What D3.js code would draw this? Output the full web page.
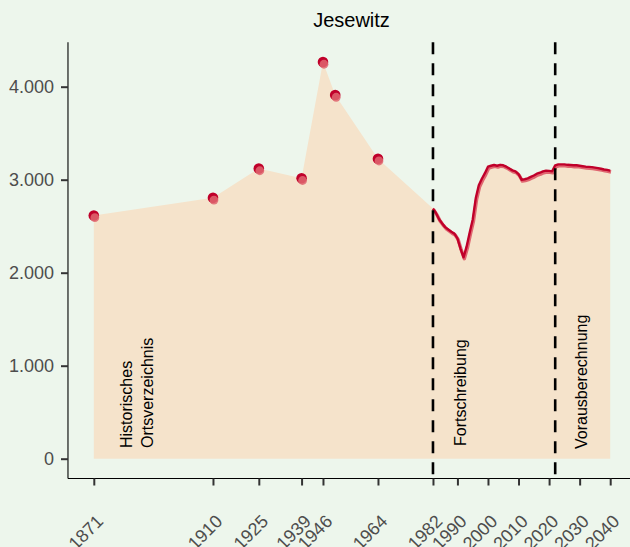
<!DOCTYPE html>
<html><head><meta charset="utf-8">
<script src="https://cdn.jsdelivr.net/npm/d3@7/dist/d3.min.js"></script>
<style>html,body{margin:0;padding:0;background:#edf6ec;}svg{display:block;}</style>
</head><body>
<svg id="c" width="630" height="547"></svg>
<script>
// ---- data ----
const histYears  = [1871, 1910, 1925, 1939, 1946, 1950, 1964];
const histValues = [2615, 2805, 3120, 3015, 4265, 3910, 3225];

const fortYears  = [1982,1983,1984,1985,1986,1987,1988,1989,1990,1991,1992,1993,1994,1995,1996,1997,1998,1999,2000,2001,2002,2003,2004,2005,2006,2007,2008,2009,2010,2011,2012,2013,2014,2015,2016,2017,2018,2019,2020,2021];
const fortValues = [2690,2640,2575,2530,2490,2465,2440,2420,2370,2260,2165,2280,2430,2570,2800,2940,3010,3070,3140,3150,3158,3150,3160,3155,3140,3120,3100,3090,3060,3000,3005,3015,3030,3045,3065,3075,3090,3097,3095,3090];

const projYears  = [2022,2023,2024,2025,2026,2027,2028,2029,2030,2031,2032,2033,2034,2035,2036,2037,2038,2039,2040];
const projValues = [3155,3165,3165,3165,3160,3158,3155,3155,3150,3145,3140,3138,3135,3130,3125,3118,3110,3105,3098];

const xTickYears = [1871,1910,1925,1939,1946,1964,1982,1990,2000,2010,2020,2030,2040];
const yTickValues = [0,1000,2000,3000,4000];
const phaseBreaks = [1982, 2022];
const title = "Jesewitz";

// ---- scales ----
const svg = d3.select("#c");
const x = d3.scaleLinear().domain([1871, 2040]).range([93.8, 610.2]);
const y = d3.scaleLinear().domain([0, 4000]).range([458.7, 86.7]);
const xMin = 1862.55, yMin = -213, yMax = 4478;

const fmt = v => d3.format(",")(v).replace(/,/g, ".");

const dark = "#c0002a", light = "#df6670", fill = "#f5e3cb";

const hist = histYears.map((d,i)=>({year:d, value:histValues[i]}));
const fort = fortYears.map((d,i)=>({year:d, value:fortValues[i]}));
const proj = projYears.map((d,i)=>({year:d, value:projValues[i]}));
const all = hist.concat(fort, proj);

svg.append("path")
  .datum(all)
  .attr("fill", fill)
  .attr("d", d3.area().x(d=>x(d.year)).y0(y(0)).y1(d=>y(d.value)));

const line = d3.line().x(d=>x(d.year)).y(d=>y(d.value));
const lineData = fort.concat(proj);
svg.append("path").datum(lineData)
  .attr("fill","none").attr("stroke", light).attr("stroke-width", 3.4)
  .attr("stroke-linejoin","round")
  .attr("transform","translate(0.8,1.4)")
  .attr("d", line);
svg.append("path").datum(lineData)
  .attr("fill","none").attr("stroke", dark).attr("stroke-width", 2.4)
  .attr("stroke-linejoin","round")
  .attr("d", line);

// points
svg.append("g").selectAll("circle").data(hist).join("circle")
  .attr("cx", d=>x(d.year)).attr("cy", d=>y(d.value)).attr("r", 5.3)
  .attr("fill", dark);
svg.append("g").selectAll("circle").data(hist).join("circle")
  .attr("cx", d=>x(d.year)+1).attr("cy", d=>y(d.value)+2.2).attr("r", 4.4)
  .attr("fill", light).attr("fill-opacity", 0.85);

svg.append("g").selectAll("line").data(phaseBreaks).join("line")
  .attr("x1", d=>x(d)).attr("x2", d=>x(d))
  .attr("y1", y(yMax)).attr("y2", y(yMin))
  .attr("stroke", "#000").attr("stroke-width", 2.6)
  .attr("stroke-dasharray", "12,9");

const labels = [
  {text:"Historisches", px:132, py:448},
  {text:"Ortsverzeichnis", px:153, py:448},
  {text:"Fortschreibung", px:466, py:446},
  {text:"Vorausberechnung", px:587, py:449}
];
svg.append("g").selectAll("text").data(labels).join("text")
  .attr("transform", d=>`translate(${d.px},${d.py}) rotate(-90)`)
  .attr("font-family","Liberation Sans, Arial, sans-serif")
  .attr("font-size", 16).attr("fill","#000")
  .text(d=>d.text);

const yAxis = svg.append("g").attr("transform", `translate(${x(xMin)},0)`)
  .call(d3.axisLeft(y).tickValues(yTickValues).tickFormat(fmt).tickSize(7).tickPadding(7));
yAxis.select(".domain").attr("d", `M0,${y(yMax)}V${y(yMin)}`).attr("stroke","#000").attr("stroke-width",1.1);
yAxis.selectAll(".tick line").attr("stroke","#333").attr("stroke-width",2);
yAxis.selectAll(".tick text").attr("font-family","Liberation Sans, Arial, sans-serif")
  .attr("font-size", 18).attr("fill","#4d4d4d");

const xAxis = svg.append("g").attr("transform", `translate(0,${y(yMin)})`)
  .call(d3.axisBottom(x).tickValues(xTickYears).tickFormat(d=>String(d)).tickSize(7));
xAxis.select(".domain").attr("d", `M${x(xMin)},0H630`).attr("stroke","#000").attr("stroke-width",1.1);
xAxis.selectAll(".tick line").attr("stroke","#333").attr("stroke-width",2);
xAxis.selectAll(".tick text")
  .attr("font-family","Liberation Sans, Arial, sans-serif")
  .attr("font-size", 18).attr("fill","#4d4d4d")
  .attr("text-anchor","end").attr("dy", null).attr("y", null)
  .attr("transform","translate(10,44) rotate(-45)");

svg.append("text").attr("x", 351.5).attr("y", 27)
  .attr("text-anchor","middle")
  .attr("font-family","Liberation Sans, Arial, sans-serif")
  .attr("font-size", 20).attr("fill","#000")
  .text(title);
</script>
</body></html>
